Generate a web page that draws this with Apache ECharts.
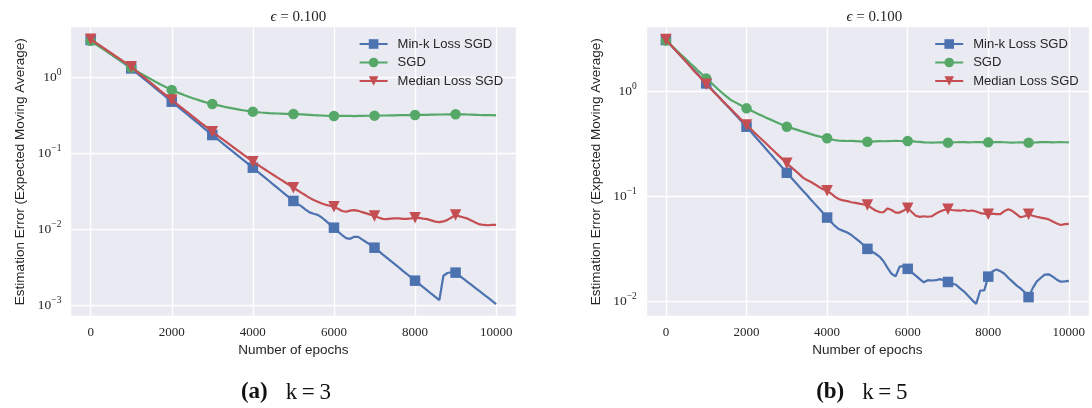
<!DOCTYPE html>
<html><head><meta charset="utf-8">
<script src="https://cdn.jsdelivr.net/npm/echarts@6/dist/echarts.min.js"></script>
<style>html,body{margin:0;padding:0;background:#fff}#c{width:1092px;height:408px}</style>
</head><body><div id="c"></div>
<script>
// ---------------- data ----------------
const epochs = [0,100,200,300,400,500,600,700,800,900,1000,1100,1200,1300,1400,1500,1600,1700,1800,1900,
2000,2100,2200,2300,2400,2500,2600,2700,2800,2900,3000,3100,3200,3300,3400,3500,3600,3700,3800,3900,
4000,4100,4200,4300,4400,4500,4600,4700,4800,4900,5000,5100,5200,5300,5400,5500,5600,5700,5800,5900,
6000,6100,6200,6300,6400,6500,6600,6700,6800,6900,7000,7100,7200,7300,7400,7500,7600,7700,7800,7900,
8000,8100,8200,8300,8400,8500,8600,8700,8800,8900,9000,9100,9200,9300,9400,9500,9600,9700,9800,9900,10000];

const xTicks = [0,2000,4000,6000,8000,10000];
const seriesNames = ['Min-k Loss SGD','SGD','Median Loss SGD'];
const captions = [['(a)','k\u2009=\u20093'],['(b)','k\u2009=\u20095']];
const yName = 'Estimation Error (Expected Moving Average)';
const xName = 'Number of epochs';

// panel (a) k=3
const minkA = [3.09,2.85,2.62,2.40,2.21,2.02,1.85,1.70,1.56,1.43,
1.31,1.19,1.07,0.970,0.877,0.793,0.716,0.647,0.585,0.528,
0.478,0.432,0.390,0.353,0.319,0.288,0.261,0.236,0.213,0.193,
0.174,0.158,0.143,0.129,0.117,0.106,0.0962,0.0871,0.0789,0.0714,
0.0647,0.0585,0.0528,0.0478,0.0432,0.0390,0.0353,0.0319,0.0288,0.0261,
0.0236,0.0216,0.0200,0.0182,0.0167,0.0160,0.0155,0.0143,0.0129,0.0116,
0.0105,0.00933,0.00841,0.00767,0.00750,0.00798,0.00794,0.00733,0.00676,0.00624,
0.00573,0.00519,0.00469,0.00425,0.00384,0.00348,0.00315,0.00284,0.00258,0.00233,
0.00211,0.00191,0.00173,0.00157,0.00142,0.00129,0.00117,0.00245,0.00266,0.00272,
0.00269,0.00244,0.00222,0.00202,0.00184,0.00167,0.00152,0.00138,0.00126,0.00114,
0.00104];
const sgdA = [3.02,2.79,2.56,2.37,2.18,2.01,1.85,1.71,1.57,1.45,
1.34,1.24,1.15,1.07,1.00,0.933,0.871,0.817,0.767,0.721,
0.681,0.646,0.614,0.585,0.558,0.535,0.513,0.493,0.475,0.459,
0.446,0.433,0.421,0.409,0.399,0.390,0.381,0.373,0.366,0.359,
0.353,0.348,0.344,0.341,0.338,0.336,0.334,0.333,0.331,0.330,
0.329,0.327,0.325,0.323,0.321,0.318,0.316,0.314,0.312,0.310,
0.310,0.310,0.310,0.310,0.310,0.309,0.310,0.311,0.312,0.312,
0.313,0.313,0.314,0.314,0.316,0.316,0.317,0.318,0.318,0.318,
0.319,0.320,0.321,0.321,0.322,0.323,0.324,0.324,0.325,0.325,
0.326,0.326,0.325,0.324,0.323,0.321,0.319,0.318,0.318,0.317,
0.316];
const medianA = [3.16,2.91,2.68,2.47,2.27,2.09,1.92,1.77,1.63,1.50,
1.38,1.24,1.12,1.02,0.920,0.832,0.752,0.679,0.615,0.556,
0.502,0.456,0.415,0.377,0.342,0.310,0.282,0.256,0.233,0.212,
0.192,0.176,0.160,0.147,0.134,0.122,0.112,0.102,0.0931,0.0849,
0.0776,0.0718,0.0662,0.0612,0.0566,0.0522,0.0483,0.0447,0.0413,0.0381,
0.0352,0.0326,0.0302,0.0280,0.0259,0.0243,0.0230,0.0219,0.0210,0.0204,
0.0198,0.0186,0.0174,0.0170,0.0176,0.0179,0.0175,0.0168,0.0162,0.0156,
0.0150,0.0143,0.0137,0.0136,0.0138,0.0139,0.0139,0.0137,0.0137,0.0139,
0.0142,0.0141,0.0138,0.0136,0.0131,0.0126,0.0124,0.0127,0.0133,0.0143,
0.0154,0.0148,0.0143,0.0138,0.0130,0.0122,0.0116,0.0114,0.0113,0.0114,
0.0114];

// panel (b) k=5
const minkB = [3.12,2.84,2.58,2.34,2.13,1.94,1.76,1.60,1.46,1.32,
1.20,1.09,0.993,0.904,0.820,0.746,0.679,0.617,0.561,0.509,
0.463,0.419,0.378,0.342,0.309,0.279,0.252,0.228,0.206,0.186,
0.168,0.152,0.138,0.125,0.113,0.103,0.0929,0.0843,0.0764,0.0692,
0.0627,0.0569,0.0519,0.0484,0.0468,0.0452,0.0428,0.0398,0.0372,0.0343,
0.0315,0.0299,0.0283,0.0266,0.0240,0.0207,0.0182,0.0172,0.0213,0.0215,
0.0203,0.0188,0.0175,0.0162,0.0151,0.0158,0.0157,0.0158,0.0162,0.0158,
0.0152,0.0147,0.0143,0.0132,0.0123,0.0112,0.0102,0.00938,0.0126,0.0126,
0.0171,0.0191,0.0200,0.0193,0.0182,0.0166,0.0153,0.0141,0.0132,0.0122,
0.0109,0.0132,0.0153,0.0166,0.0179,0.0180,0.0171,0.0160,0.0153,0.0154,
0.0156];
const sgdB = [3.09,2.84,2.62,2.41,2.21,2.04,1.87,1.73,1.58,1.46,
1.34,1.24,1.14,1.05,0.971,0.902,0.839,0.800,0.762,0.726,
0.693,0.664,0.635,0.610,0.585,0.562,0.541,0.520,0.500,0.481,
0.463,0.451,0.439,0.427,0.415,0.404,0.393,0.383,0.374,0.366,
0.359,0.351,0.344,0.340,0.339,0.338,0.339,0.337,0.335,0.333,
0.333,0.333,0.335,0.337,0.336,0.337,0.338,0.339,0.338,0.337,
0.338,0.337,0.333,0.331,0.328,0.327,0.326,0.327,0.328,0.327,
0.326,0.327,0.329,0.330,0.330,0.328,0.329,0.330,0.330,0.328,
0.328,0.329,0.330,0.330,0.329,0.327,0.326,0.327,0.328,0.327,
0.326,0.327,0.328,0.330,0.330,0.330,0.328,0.329,0.330,0.329,
0.328];
const medianB = [3.16,2.86,2.59,2.35,2.13,1.93,1.75,1.58,1.44,1.30,
1.18,1.08,0.984,0.900,0.822,0.752,0.689,0.630,0.575,0.526,
0.481,0.442,0.406,0.373,0.344,0.316,0.290,0.267,0.245,0.225,
0.207,0.191,0.177,0.164,0.151,0.143,0.137,0.130,0.123,0.117,
0.113,0.106,0.0989,0.0938,0.0916,0.0902,0.0879,0.0867,0.0851,0.0839,
0.0828,0.0776,0.0733,0.0708,0.0705,0.0767,0.0741,0.0700,0.0700,0.0733,
0.0769,0.0708,0.0653,0.0637,0.0646,0.0638,0.0646,0.0684,0.0716,0.0741,
0.0753,0.0741,0.0733,0.0729,0.0741,0.0724,0.0733,0.0716,0.0692,0.0684,
0.0675,0.0684,0.0676,0.0675,0.0724,0.0753,0.0724,0.0676,0.0631,0.0646,
0.0675,0.0653,0.0638,0.0627,0.0617,0.0603,0.0575,0.0550,0.0533,0.0543,
0.0545];

// ---------------- styling ----------------
const SERIF = "'Liberation Serif','DejaVu Serif',serif";
const SANS = "'Liberation Sans','Arial','DejaVu Sans',sans-serif";
const TXT = '#262626';
const COLORS = ['#4C72B0','#55A868','#C44E52'];
const SYMBOLS = [['rect',0,10.5],['circle',0,10.5],['triangle',180,11.5]];

const panels = [
  {left:70.4, width:446, ymin:7.08e-4, ymax:4.63, data:[minkA,sgdA,medianA], legendLeft:358.6},
  {left:645.8, width:447, ymin:7.08e-3, ymax:4.18, data:[minkB,sgdB,medianB], legendLeft:934.2}
];
const TOP = 26.7, HEIGHT = 290;

function logLabel(v) {
  const l = Math.log10(v), e = Math.round(l);
  if (Math.abs(l - e) > 1e-6) return '';
  return '{b|10}{s|' + (e < 0 ? '\u2212' + (-e) : String(e)) + '}';
}

const option = {
  animation:false,
  backgroundColor:'#ffffff',
  title:[], grid:[], xAxis:[], yAxis:[], legend:[], series:[]
};

panels.forEach((p, pi) => {
  const cx = p.left + p.width / 2;
  option.title.push({
    text:'{i|\u03f5}{t| = 0.100}', left:cx, top:4.5, textAlign:'center',
    textStyle:{fontFamily:SERIF, fontSize:15, fontWeight:'normal', color:TXT,
      rich:{i:{fontFamily:SERIF, fontStyle:'italic', fontSize:15, color:TXT},
            t:{fontFamily:SERIF, fontSize:15, color:TXT}}}
  });
  option.title.push({
    text:'{b|' + captions[pi][0] + '}{g| }{n|' + captions[pi][1] + '}',
    left:cx - 12.5, top:376, textAlign:'center',
    textStyle:{fontWeight:'normal', rich:{
      b:{fontFamily:SERIF, fontWeight:'bold', fontSize:23, color:'#111'},
      g:{width:18, fontSize:23},
      n:{fontFamily:SERIF, fontWeight:'normal', fontSize:23, color:'#111'}
    }}
  });
  option.grid.push({left:p.left, top:TOP, width:p.width, height:HEIGHT, show:true,
    backgroundColor:'#EAEAF2', borderWidth:0, containLabel:false});
  option.xAxis.push({
    type:'value', gridIndex:pi, min:-500, max:10500, minInterval:2000, maxInterval:2000,
    axisLine:{show:false}, axisTick:{show:false},
    splitLine:{show:true, lineStyle:{color:'#ffffff', width:1.3}},
    axisLabel:{fontFamily:SERIF, fontSize:13, color:TXT, margin:9,
      formatter:v => (xTicks.indexOf(v) >= 0 ? String(v) : '')},
    name:xName, nameLocation:'middle', nameGap:26,
    nameTextStyle:{fontFamily:SANS, fontSize:13.5, color:TXT}
  });
  option.yAxis.push({
    type:'log', logBase:10, gridIndex:pi, min:p.ymin, max:p.ymax,
    axisLine:{show:false}, axisTick:{show:false},
    splitLine:{show:true, lineStyle:{color:'#ffffff', width:1.3}},
    axisLabel:{formatter:logLabel, margin:9, color:TXT,
      rich:{
        b:{fontFamily:SERIF, fontSize:13.5, color:TXT, lineHeight:20},
        s:{fontFamily:SERIF, fontSize:9.5, color:TXT, verticalAlign:'top', lineHeight:10}
      }},
    name:yName, nameLocation:'middle', nameGap:43, nameRotate:90,
    nameTextStyle:{fontFamily:SANS, fontSize:13.5, color:TXT}
  });
  option.legend.push({
    show:true, orient:'vertical', left:p.legendLeft, top:37, padding:0,
    itemWidth:28, itemHeight:12, itemGap:4.5,
    data:seriesNames.map(n => ({name:n})),
    textStyle:{fontFamily:SANS, fontSize:13, color:TXT, lineHeight:14, padding:[0,0,0,5]},
    selectedMode:false
  });
  p.data.forEach((vals, si) => {
    const [sym, rot, size] = SYMBOLS[si];
    option.series.push({
      type:'line', name:seriesNames[si], xAxisIndex:pi, yAxisIndex:pi,
      data:epochs.map((e, i) => [e, vals[i]]),
      color:COLORS[si], symbol:sym, symbolRotate:rot,
      symbolSize:(v, params) => (params.dataIndex % 10 === 0 && params.dataIndex < 100 ? size : 0),
      showSymbol:true, showAllSymbol:true, z:2 + si,
      lineStyle:{width:2.2, color:COLORS[si]},
      itemStyle:{color:COLORS[si], borderWidth:0},
      emphasis:{disabled:true}, silent:true
    });
  });
});

const chart = echarts.init(document.getElementById('c'), null, {renderer:'canvas'});
chart.setOption(option);
</script>
</body></html>
